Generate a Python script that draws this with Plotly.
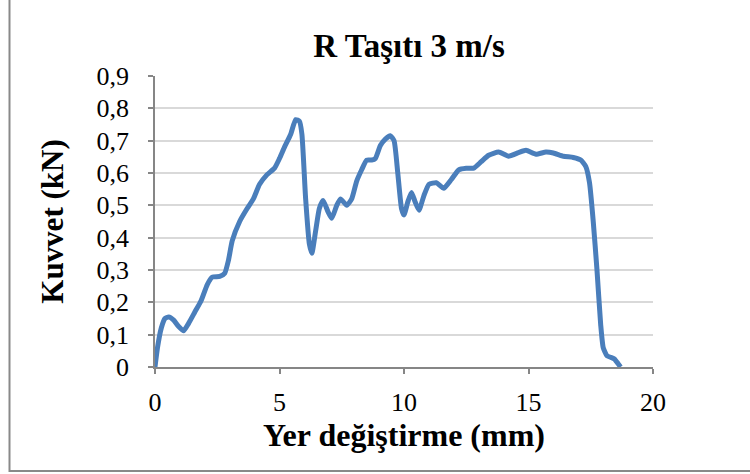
import plotly.graph_objects as go

# Force–displacement record, R vehicle at 3 m/s
displacement_mm = [0, 0.1, 0.25, 0.4, 0.55, 0.75, 0.95, 1.15, 1.35, 1.6, 1.85, 2.1, 2.3, 2.6, 2.8,
                   2.95, 3.1, 3.4, 3.7, 3.95, 4.2, 4.5, 4.8, 5.0, 5.2, 5.45, 5.65, 5.8, 5.9, 6.05,
                   6.2, 6.3, 6.45, 6.6, 6.75, 6.95, 7.1, 7.3, 7.45, 7.7, 7.9, 8.1, 8.3, 8.5, 8.7,
                   8.85, 9.05, 9.25, 9.45, 9.6, 9.75, 9.9, 10.0, 10.15, 10.3, 10.45, 10.6, 10.8,
                   11.0, 11.3, 11.6, 11.9, 12.2, 12.5, 12.8, 13.1, 13.4, 13.8, 14.2, 14.6, 14.9,
                   15.3, 15.7, 16.0, 16.4, 16.8, 17.1, 17.3, 17.45, 17.6, 17.75, 17.9, 18.0,
                   18.15, 18.3, 18.45, 18.6, 18.7]
force_kn = [0, 0.06, 0.12, 0.15, 0.155, 0.145, 0.125, 0.112, 0.135, 0.17, 0.205, 0.255, 0.278,
            0.28, 0.29, 0.33, 0.39, 0.45, 0.49, 0.52, 0.565, 0.595, 0.615, 0.645, 0.68, 0.72,
            0.765, 0.76, 0.72, 0.52, 0.38, 0.352, 0.42, 0.49, 0.515, 0.48, 0.46, 0.5, 0.52, 0.5,
            0.52, 0.575, 0.61, 0.64, 0.64, 0.645, 0.685, 0.705, 0.715, 0.7, 0.6, 0.49, 0.47,
            0.51, 0.54, 0.51, 0.485, 0.53, 0.565, 0.57, 0.553, 0.58, 0.61, 0.615, 0.615, 0.635,
            0.655, 0.665, 0.652, 0.663, 0.67, 0.658, 0.665, 0.662, 0.652, 0.648, 0.64, 0.62,
            0.57, 0.45, 0.3, 0.13, 0.06, 0.035, 0.03, 0.025, 0.01, 0.0]

x_ticks = [0, 5, 10, 15, 20]
y_ticks = [0, 0.1, 0.2, 0.3, 0.4, 0.5, 0.6, 0.7, 0.8, 0.9]
y_tick_text = ["0", "0,1", "0,2", "0,3", "0,4", "0,5", "0,6", "0,7", "0,8", "0,9"]

FONT = "Liberation Serif, Times New Roman, serif"
W, H = 750, 474
L, R, T, B = 155, 97, 76, 107

fig = go.Figure(go.Scatter(
    x=displacement_mm, y=force_kn, mode="lines",
    line=dict(color="#4A7EBB", width=5, shape="spline", smoothing=0.5),
    showlegend=False,
))

axis_common = dict(
    showline=True, linecolor="#868686", linewidth=1.5,
    ticks="outside", ticklen=5, tickcolor="#868686", tickwidth=1.5,
    tickfont=dict(family=FONT, size=26, color="black"),
    zeroline=False,
)

fig.update_xaxes(
    range=[0, 20], tickvals=x_ticks, showgrid=False,
    ticklabelstandoff=6,
    title=dict(text="<b>Yer değiştirme (mm)</b>", font=dict(family=FONT, size=32, color="black"),
               standoff=4),
    **axis_common,
)
fig.update_yaxes(
    range=[0, 0.9], tickvals=y_ticks, ticktext=y_tick_text,
    showgrid=True, gridcolor="#D9D9D9", gridwidth=1.5,
    ticklabelstandoff=14,
    title=dict(text="<b>Kuvvet (kN)</b>", font=dict(family=FONT, size=31, color="black"),
               standoff=24),
    **axis_common,
)

pw, ph = W - L - R, H - T - B
# outer chart frame
fig.add_shape(type="rect", xref="paper", yref="paper",
              x0=(9.5 - L) / pw, x1=(W + 10 - L) / pw,
              y0=-(471 - (H - B)) / ph, y1=1 + (T + 10) / ph,
              line=dict(color="#898989", width=2), layer="below")

fig.update_layout(
    width=W, height=H,
    margin=dict(l=L, r=R, t=T, b=B),
    paper_bgcolor="white", plot_bgcolor="white",
    title=dict(text="<b>R Taşıtı 3 m/s</b>", font=dict(family=FONT, size=33, color="black"),
               x=409 / W, xanchor="center", y=1 - 45 / H, yanchor="middle"),
)

fig.write_html("out.html")
